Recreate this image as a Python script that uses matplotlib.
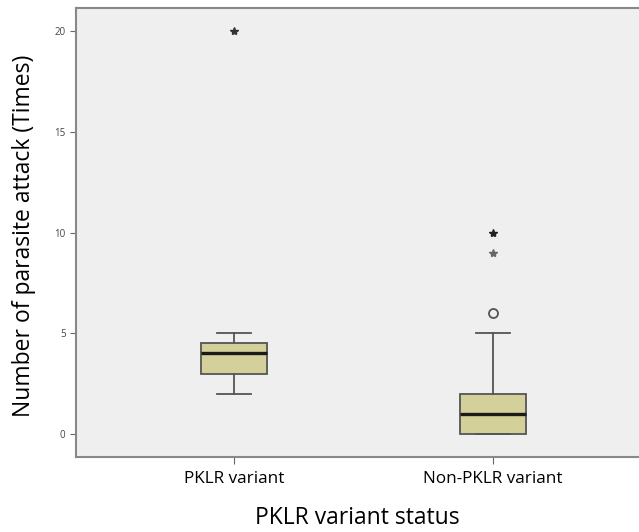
import matplotlib
matplotlib.use('Agg')
import matplotlib.pyplot as plt

plt.rcParams['font.family'] = ['Open Sans', 'DejaVu Sans']

# data
groups = ['PKLR variant', 'Non-PKLR variant']
q1 = [3, 0]
med = [4, 1]
q3 = [4.5, 2]
whislo = [2, 0]
whishi = [5, 5]
outliers = [[], [6]]          # circles
extremes = [[20], [10, 9]]    # stars
star_col = [['#333333'], ['#222222', '#666666']]

stats = []
for i, g in enumerate(groups):
    stats.append({'label': g, 'q1': q1[i], 'med': med[i], 'q3': q3[i],
                  'whislo': whislo[i], 'whishi': whishi[i], 'fliers': []})

fig = plt.figure(figsize=(6.39, 5.32), dpi=100)
ax = fig.add_axes([76/639, 75/532, 1 - 76/639, 449/532])
ax.set_facecolor('#efefef')

pos = [1, 2]
ax.bxp(stats, positions=pos, widths=0.255, patch_artist=True, showfliers=False,
       boxprops=dict(facecolor='#d4d09a', edgecolor='#555555', linewidth=1.3),
       medianprops=dict(color='#1a1a1a', linewidth=2.4),
       whiskerprops=dict(color='#555555', linewidth=1.3),
       capprops=dict(color='#555555', linewidth=1.3), capwidths=0.128)

for i, p in enumerate(pos):
    if outliers[i]:
        ax.plot([p] * len(outliers[i]), outliers[i], 'o', ms=6.5, mfc='none',
                mec='#555555', mew=1.3)
    for v, c in zip(extremes[i], star_col[i]):
        ax.plot([p], [v], '*', ms=6, color=c)

ax.set_xlim(1 - 158/259, 2 + 146/259)
ax.set_ylim(-1.14, 21.15)
ax.set_yticks([0, 5, 10, 15, 20])
ax.set_xticks(pos)
ax.set_xticklabels(groups, fontsize=12.3)
ax.tick_params(axis='y', labelsize=7, labelcolor='#444444', color='#666666', length=4)
ax.tick_params(axis='x', color='#666666', length=5, pad=5)

for s in ['left', 'top', 'bottom']:
    ax.spines[s].set_color('#888888')
    ax.spines[s].set_linewidth(1.5)
ax.spines['right'].set_visible(False)

ax.set_ylabel('Number of parasite attack (Times)', fontsize=16.5)
ax.set_xlabel('PKLR variant status', fontsize=16.5)
ax.yaxis.set_label_coords(-0.071, 0.493)
ax.xaxis.set_label_coords(0.499, -0.11)

fig.savefig('out.png', dpi=100, facecolor='white')
